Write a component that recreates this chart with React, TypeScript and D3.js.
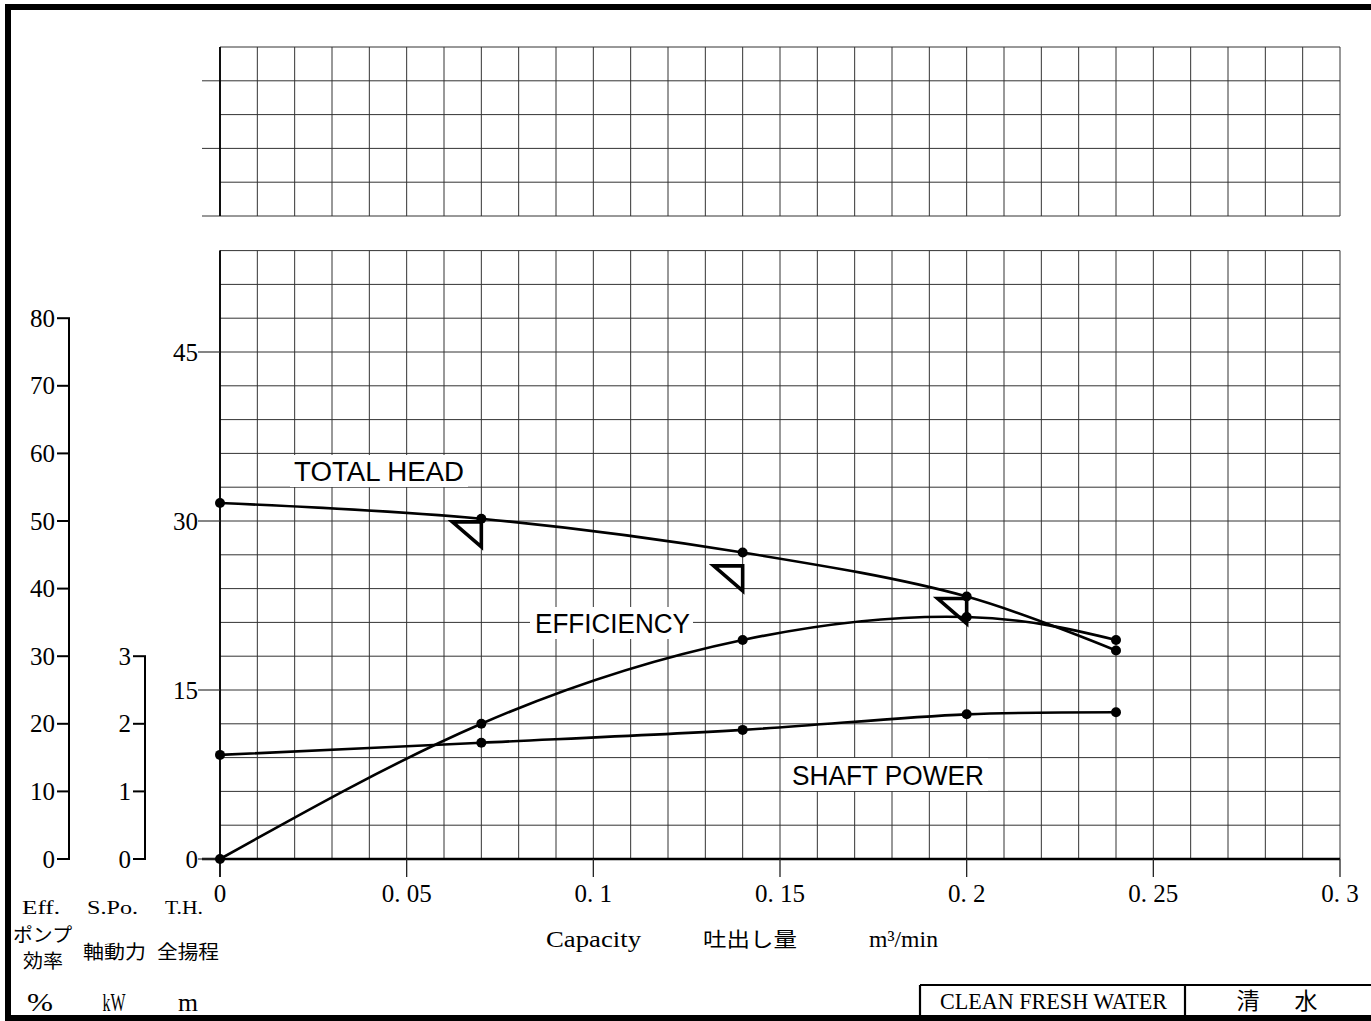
import React from 'react';
import * as d3 from 'd3';

// ---- data ----
const capacity = [0, 0.07, 0.14, 0.2, 0.24];          // m3/min
const totalHead = [31.6, 30.2, 27.2, 23.3, 18.5];      // m
const efficiency = [0, 20.0, 32.4, 35.8, 32.4];        // %
const shaftPower = [1.54, 1.72, 1.91, 2.14, 2.17];     // kW
const ratedQ = [0.07, 0.14, 0.2];                      // triangle markers
const ratedHead = [27.7, 23.8, 20.9];

const xTicks = [0, 0.05, 0.1, 0.15, 0.2, 0.25, 0.3];
const xTickLabels = ['0', '0. 05', '0. 1', '0. 15', '0. 2', '0. 25', '0. 3'];
const headTicks = [0, 15, 30, 45];
const effTicks = [0, 10, 20, 30, 40, 50, 60, 70, 80];
const powerTicks = [0, 1, 2, 3];
const upperTicks = [0, 6, 12];

const W = 1371;
const H = 1021;

const SERIF = '"Liberation Serif", "DejaVu Serif", serif';
const SANS = '"Liberation Sans", Arial, sans-serif';
const CJK = '"Noto Sans CJK JP", sans-serif';

export default function App() {
  const x = d3.scaleLinear().domain([0, 0.3]).range([220, 1340]);
  const yH = d3.scaleLinear().domain([0, 54]).range([859, 250.6]);
  const yE = d3.scaleLinear().domain([0, 80]).range([859, yH(48)]);
  const yP = d3.scaleLinear().domain([0, 3]).range([859, yH(18)]);
  const yU = d3.scaleLinear().domain([0, 15]).range([216, 47]);

  const vGrid = d3.range(0, 31).map((i) => i * 0.01);
  const hGrid = d3.range(0, 55, 3);
  const uGrid = d3.range(0, 16, 3);

  const headLine = d3
    .line<number>()
    .x((_, i) => x(capacity[i]))
    .y((d) => yH(d))
    .curve(d3.curveCatmullRom.alpha(0.5));
  const effLine = d3
    .line<number>()
    .x((_, i) => x(capacity[i]))
    .y((d) => yE(d))
    .curve(d3.curveNatural);
  const powLine = d3
    .line<number>()
    .x((_, i) => x(capacity[i]))
    .y((d) => yP(d))
    .curve(d3.curveCatmullRom.alpha(0.5));

  const gridStroke = '#333';

  return (
    <svg
      width={W}
      height={H}
      viewBox={`0 0 ${W} ${H}`}
      style={{ position: 'absolute', left: 0, top: 0, background: '#fff' }}
    >
      <rect x={0} y={0} width={W} height={H} fill="#fff" />
      {/* outer frame */}
      <rect x={8} y={7} width={W + 10} height={1011} fill="none" stroke="#000" strokeWidth={6} />

      {/* upper grid */}
      <g>
        {vGrid.map((v) => (
          <line key={'uv' + v} x1={x(v)} x2={x(v)} y1={yU(0)} y2={yU(15)} stroke={gridStroke} strokeWidth={1} />
        ))}
        {uGrid.map((v) => (
          <line key={'uh' + v} x1={x(0)} x2={x(0.3)} y1={yU(v)} y2={yU(v)} stroke={gridStroke} strokeWidth={1} />
        ))}
        {upperTicks.map((v) => (
          <line key={'ut' + v} x1={202} x2={x(0)} y1={yU(v)} y2={yU(v)} stroke={gridStroke} strokeWidth={1} />
        ))}
        <line x1={x(0)} x2={x(0)} y1={yU(0)} y2={yU(15)} stroke="#000" strokeWidth={1.8} />
      </g>

      {/* main grid */}
      <g>
        {vGrid.map((v) => (
          <line key={'mv' + v} x1={x(v)} x2={x(v)} y1={yH(0)} y2={yH(54)} stroke={gridStroke} strokeWidth={1} />
        ))}
        {hGrid.map((v) => (
          <line key={'mh' + v} x1={x(0)} x2={x(0.3)} y1={yH(v)} y2={yH(v)} stroke={gridStroke} strokeWidth={1} />
        ))}
      </g>

      {/* curve labels with white knock-out boxes */}
      <g fontFamily={SANS} fontSize={27} fill="#000">
        <rect x={290} y={455} width={178} height={32} fill="#fff" />
        <text x={294} y={481} textLength={170} lengthAdjust="spacingAndGlyphs">TOTAL HEAD</text>
        <rect x={530} y={607} width={163} height={32} fill="#fff" />
        <text x={535} y={633} textLength={155} lengthAdjust="spacingAndGlyphs">EFFICIENCY</text>
        <rect x={784} y={758} width={204} height={33} fill="#fff" />
        <text x={792} y={785} textLength={192} lengthAdjust="spacingAndGlyphs">SHAFT POWER</text>
      </g>

      {/* main left axis + x axis */}
      <line x1={x(0)} x2={x(0)} y1={yH(54)} y2={877} stroke="#000" strokeWidth={1.8} />
      <line x1={202} x2={x(0.3)} y1={yH(0)} y2={yH(0)} stroke="#000" strokeWidth={2.5} />
      {xTicks.map((t) => (
        <line key={'xt' + t} x1={x(t)} x2={x(t)} y1={yH(0)} y2={877} stroke="#222" strokeWidth={1.3} />
      ))}
      <g fontFamily={SERIF} fontSize={25} fill="#000" textAnchor="middle">
        {xTicks.map((t, i) => (
          <text key={'xl' + t} x={x(t)} y={902}>{xTickLabels[i]}</text>
        ))}
      </g>

      {/* total head axis */}
      {headTicks.map((t) => (
        <line key={'ht' + t} x1={198} x2={x(0)} y1={yH(t)} y2={yH(t)} stroke="#333" strokeWidth={1.2} />
      ))}
      <g fontFamily={SERIF} fontSize={25} fill="#000" textAnchor="end">
        {headTicks.map((t) => (
          <text key={'hl' + t} x={198} y={yH(t) + 8.5}>{t}</text>
        ))}
      </g>

      {/* efficiency axis */}
      <line x1={69} x2={69} y1={yE(80)} y2={yE(0)} stroke="#000" strokeWidth={2} />
      {effTicks.map((t) => (
        <line key={'et' + t} x1={57} x2={70} y1={yE(t)} y2={yE(t)} stroke="#000" strokeWidth={2} />
      ))}
      <g fontFamily={SERIF} fontSize={25} fill="#000" textAnchor="end">
        {effTicks.map((t) => (
          <text key={'el' + t} x={55} y={yE(t) + 8.5}>{t}</text>
        ))}
      </g>

      {/* shaft power axis */}
      <line x1={145} x2={145} y1={yP(3)} y2={yP(0)} stroke="#000" strokeWidth={2} />
      {powerTicks.map((t) => (
        <line key={'pt' + t} x1={133} x2={146} y1={yP(t)} y2={yP(t)} stroke="#000" strokeWidth={2} />
      ))}
      <g fontFamily={SERIF} fontSize={25} fill="#000" textAnchor="end">
        {powerTicks.map((t) => (
          <text key={'pl' + t} x={131} y={yP(t) + 8.5}>{t}</text>
        ))}
      </g>

      {/* curves */}
      <g fill="none" stroke="#000" strokeWidth={2.6}>
        <path d={headLine(totalHead) || ''} />
        <path d={effLine(efficiency) || ''} />
        <path d={powLine(shaftPower) || ''} />
      </g>
      <g fill="#000">
        {capacity.map((q, i) => (
          <circle key={'hd' + i} cx={x(q)} cy={yH(totalHead[i])} r={5} />
        ))}
        {capacity.map((q, i) => (
          <circle key={'ed' + i} cx={x(q)} cy={yE(efficiency[i])} r={5} />
        ))}
        {capacity.map((q, i) => (
          <circle key={'pd' + i} cx={x(q)} cy={yP(shaftPower[i])} r={5} />
        ))}
      </g>

      {/* rated-point triangles */}
      <g fill="none" stroke="#000" strokeWidth={3.6} strokeLinejoin="miter">
        {ratedQ.map((q, i) => {
          const tx = x(q);
          const ty = yH(ratedHead[i]);
          return (
            <path key={'tr' + i} d={`M${tx},${ty} L${tx},${ty - 25} L${tx - 29},${ty - 25} Z`} />
          );
        })}
      </g>

      {/* axis titles */}
      <g fontFamily={SERIF} fontSize={18.5} fill="#000">
        <text x={22} y={914} textLength={38} lengthAdjust="spacingAndGlyphs">Eff.</text>
        <text x={87} y={914} textLength={51} lengthAdjust="spacingAndGlyphs">S.Po.</text>
        <text x={165} y={914} textLength={38} lengthAdjust="spacingAndGlyphs">T.H.</text>
      </g>
      <g fontFamily={CJK} fontSize={19} fill="#000">
        <text x={13} y={942} textLength={59} lengthAdjust="spacingAndGlyphs">ポンプ</text>
        <text x={23} y={968} textLength={40} lengthAdjust="spacingAndGlyphs">効率</text>
        <text x={83} y={959} textLength={63} lengthAdjust="spacingAndGlyphs">軸動力</text>
        <text x={157} y={959} textLength={62} lengthAdjust="spacingAndGlyphs">全揚程</text>
      </g>
      <g fontFamily={SERIF} fontSize={26} fill="#000" textAnchor="middle">
        <text x={40} y={1011} textLength={26} lengthAdjust="spacingAndGlyphs">%</text>
        <text x={114} y={1011} textLength={23} lengthAdjust="spacingAndGlyphs">kW</text>
        <text x={188} y={1011} textLength={20} lengthAdjust="spacingAndGlyphs">m</text>
      </g>

      {/* x-axis title */}
      <text x={546} y={947} fontFamily={SERIF} fontSize={23} textLength={95} lengthAdjust="spacingAndGlyphs">Capacity</text>
      <text x={703} y={947} fontFamily={CJK} fontSize={20} textLength={94} lengthAdjust="spacingAndGlyphs">吐出し量</text>
      <text x={869} y={947} fontFamily={SERIF} fontSize={23} textLength={69} lengthAdjust="spacingAndGlyphs">m³/min</text>

      {/* fluid box */}
      <g stroke="#000" strokeWidth={2.2} fill="none">
        <line x1={920} x2={W} y1={985} y2={985} />
        <line x1={920} x2={920} y1={985} y2={1016} />
        <line x1={1185} x2={1185} y1={985} y2={1016} />
      </g>
      <text x={940} y={1009} fontFamily={SERIF} fontSize={23} textLength={227} lengthAdjust="spacingAndGlyphs">CLEAN FRESH WATER</text>
      <g fontFamily={CJK} fontSize={23} fill="#000" textAnchor="middle">
        <text x={1248} y={1009}>清</text>
        <text x={1306} y={1009}>水</text>
      </g>
    </svg>
  );
}
